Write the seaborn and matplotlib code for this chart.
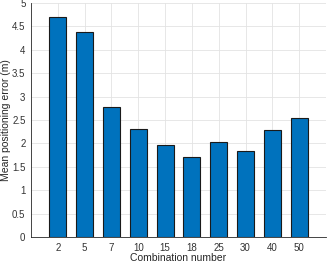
import matplotlib
matplotlib.use("Agg")
import matplotlib.pyplot as plt
import seaborn as sns
import pandas as pd

combinations = ["2", "5", "7", "10", "15", "18", "25", "30", "40", "50"]
mean_error = [4.71, 4.38, 2.78, 2.31, 1.96, 1.70, 2.04, 1.84, 2.29, 2.55]
y_ticks = [0, 0.5, 1, 1.5, 2, 2.5, 3, 3.5, 4, 4.5, 5]

df = pd.DataFrame({"combination": combinations, "error": mean_error})

sns.set_theme(style="whitegrid")
plt.rcParams["font.family"] = ["Liberation Sans", "DejaVu Sans"]

fig = plt.figure(figsize=(3.27, 2.64), dpi=100)
ax = fig.add_axes([31 / 327, 27 / 264, 295 / 327, 234 / 264])

sns.barplot(data=df, x="combination", y="error", order=combinations,
            color="#0072BD", saturation=1, width=0.64,
            edgecolor="#1a1a1a", linewidth=0.8, ax=ax)

ax.set_xlim(-1, 10)
ax.set_ylim(0, 5)
ax.set_yticks(y_ticks)
ax.set_yticklabels([f"{t:g}" for t in y_ticks])
ax.grid(True, color="#e3e3e3", linewidth=0.6)
ax.set_axisbelow(True)
for side in ["top", "right"]:
    ax.spines[side].set_visible(False)
for side in ["left", "bottom"]:
    ax.spines[side].set_visible(True)
    ax.spines[side].set_color("#262626")
    ax.spines[side].set_linewidth(0.6)
ax.tick_params(axis="both", labelsize=7, colors="#404040", length=2,
               width=0.5, direction="in")
ax.tick_params(axis="x", pad=4)
ax.tick_params(axis="y", pad=4)
ax.tick_params(axis="both", labelcolor="#333333")
ax.set_xlabel("Combination number", fontsize=7.5, color="#262626", labelpad=0.5)
ax.set_ylabel("Mean positioning error (m)", fontsize=7.5, color="#262626", labelpad=1)

fig.savefig("out.png", dpi=100)
